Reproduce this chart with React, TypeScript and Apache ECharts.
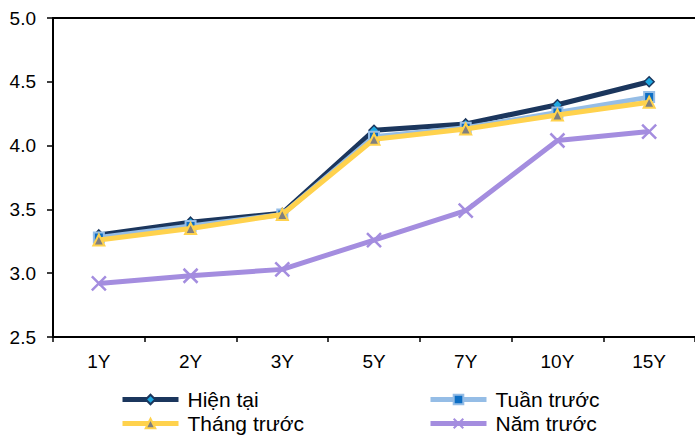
import React, { useEffect, useRef } from "react";
import * as echarts from "echarts";

const categories = ["1Y", "2Y", "3Y", "5Y", "7Y", "10Y", "15Y"];
const hienTai = [3.30, 3.40, 3.47, 4.12, 4.17, 4.32, 4.50];
const tuanTruoc = [3.28, 3.37, 3.46, 4.07, 4.14, 4.26, 4.38];
const thangTruoc = [3.26, 3.35, 3.46, 4.05, 4.13, 4.24, 4.34];
const namTruoc = [2.92, 2.98, 3.03, 3.26, 3.49, 4.04, 4.11];
const seriesNames = ["Hiện tại", "Tuần trước", "Tháng trước", "Năm trước"];

const FONT = "'Liberation Sans', Arial, sans-serif";
const CROSS = "path://M0,0L10,10M10,0L0,10";

function legendAt(name: string, left: number, top: number) {
  return {
    orient: "horizontal",
    left,
    top,
    itemWidth: 56,
    itemHeight: 12,
    itemGap: 8,
    lineStyle: { width: 5 },
    textStyle: { fontFamily: FONT, fontSize: 21, color: "#000", padding: [0, 0, 0, 4] },
    data: [name],
  };
}

export default function App() {
  const ref = useRef<HTMLDivElement>(null);
  useEffect(() => {
    if (!ref.current) return;
    const chart = echarts.init(ref.current, null, { renderer: "svg" });
    const GL = 53, GT = 18, GW = 644, GH = 319;
    chart.setOption({
      animation: false,
      backgroundColor: "#ffffff",
      textStyle: { fontFamily: FONT },
      grid: { left: GL, top: GT, width: GW, height: GH, containLabel: false },
      legend: [
        legendAt(seriesNames[0], 115, 384),
        legendAt(seriesNames[2], 115, 408),
        legendAt(seriesNames[1], 423, 384),
        legendAt(seriesNames[3], 423, 408),
      ],
      xAxis: [
        {
          type: "category",
          data: categories,
          boundaryGap: true,
          axisLine: { lineStyle: { color: "#000", width: 2 } },
          axisTick: { show: true, length: 5, lineStyle: { color: "#000", width: 1.5 } },
          axisLabel: { color: "#000", fontSize: 19, fontFamily: FONT, margin: 15 },
          splitLine: { show: false },
        },
        {
          type: "category",
          data: categories,
          position: "top",
          axisLine: { lineStyle: { color: "#000", width: 2 } },
          axisTick: { show: false },
          axisLabel: { show: false },
        },
      ],
      yAxis: {
        type: "value",
        min: 2.5,
        max: 5.0,
        interval: 0.5,
        axisLine: { show: true, lineStyle: { color: "#000", width: 2 } },
        axisTick: { show: true, length: 6, lineStyle: { color: "#000", width: 1.5 } },
        axisLabel: {
          color: "#000",
          fontSize: 19,
          fontFamily: FONT,
          margin: 17,
          formatter: (v: number) => v.toFixed(1),
        },
        splitLine: { show: false },
      },
      series: [
        {
          name: seriesNames[0],
          type: "line",
          data: hienTai,
          symbol: "diamond",
          symbolSize: 10,
          lineStyle: { color: "#1b365d", width: 5 },
          itemStyle: { color: "#1ea7e1", borderColor: "#1b365d", borderWidth: 1.5 },
          z: 2,
        },
        {
          name: seriesNames[1],
          type: "line",
          data: tuanTruoc,
          symbol: "rect",
          symbolSize: 10,
          lineStyle: { color: "#95bde6", width: 5 },
          itemStyle: { color: "#0d6ec4", borderColor: "#95bde6", borderWidth: 2 },
          z: 3,
        },
        {
          name: seriesNames[2],
          type: "line",
          data: thangTruoc,
          symbol: "triangle",
          symbolSize: 11,
          lineStyle: { color: "#ffd24d", width: 5 },
          itemStyle: { color: "#7f7f7f", borderColor: "#ffd24d", borderWidth: 2 },
          z: 4,
        },
        {
          name: seriesNames[3],
          type: "line",
          data: namTruoc,
          symbol: CROSS,
          symbolSize: 14,
          lineStyle: { color: "#a48ddf", width: 5 },
          itemStyle: { color: "#a48ddf", borderColor: "#a48ddf", borderWidth: 2.5 },
          z: 5,
        },
      ],
    });
    return () => chart.dispose();
  }, []);
  return (
    <div
      ref={ref}
      style={{ position: "fixed", left: 0, top: 0, width: 695, height: 436, background: "#fff" }}
    />
  );
}
